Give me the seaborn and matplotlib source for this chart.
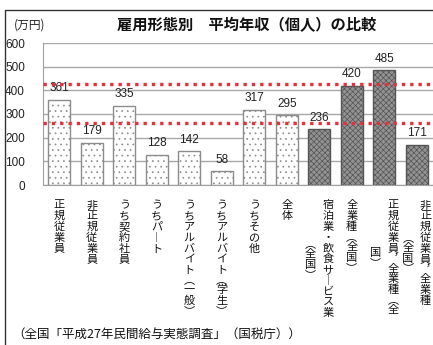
"""
雇用形態別 平均年収(個人)の比較 - bar chart with vertical Japanese labels.
"""

import matplotlib

matplotlib.use("Agg")
import matplotlib.pyplot as plt
import matplotlib.transforms as mtransforms
import numpy as np
import pandas as pd
import seaborn as sns
from matplotlib.patches import Rectangle

# --- data -------------------------------------------------------------------
categories = [
    "正規従業員",
    "非正規従業員",
    "うち契約社員",
    "うちパート",
    "うちアルバイト（一般）",
    "うちアルバイト（学生）",
    "うちその他",
    "全体",
    "宿泊業・飲食サービス業（全国）",
    "全業種（全国）",
    "正規従業員，全業種（全国）",
    "非正規従業員，全業種（全国）",
]
# how each category name is wrapped into vertical columns (right column first)
label_columns = [
    ["正規従業員"],
    ["非正規従業員"],
    ["うち契約社員"],
    ["うちパート"],
    ["うちアルバイト（一般）"],
    ["うちアルバイト（学生）"],
    ["うちその他"],
    ["全体"],
    ["宿泊業・飲食サービス業", "（全国）"],
    ["全業種（全国）"],
    ["正規従業員，全業種（全", "国）"],
    ["非正規従業員，全業種", "（全国）"],
]
values = [361, 179, 335, 128, 142, 58, 317, 295, 236, 420, 485, 171]
groups = ["会社"] * 8 + ["全国"] * 4
ref_lines = [425, 262]
yticks = [0, 100, 200, 300, 400, 500, 600]

title = "雇用形態別　平均年収（個人）の比較"
unit_label = "(万円)"
source = "（全国「平成27年民間給与実態調査」（国税庁））"

# --- style ------------------------------------------------------------------
sns.set_style("white")
plt.rcParams["font.family"] = ["Noto Sans CJK JP", "DejaVu Sans"]
plt.rcParams["hatch.linewidth"] = 0.5

W, H = 433, 345
fig = plt.figure(figsize=(W / 100, H / 100), dpi=100)
ax = fig.add_axes([43 / W, 160 / H, 390 / W, 142 / H])

df = pd.DataFrame({"category": categories, "value": values, "group": groups})
sns.barplot(
    data=df,
    x="category",
    y="value",
    hue="category",
    palette=["white"] * len(categories),
    width=0.68,
    legend=False,
    ax=ax,
)

for patch, grp in zip(ax.patches, groups):
    if grp == "会社":
        patch.set_facecolor("white")
        patch.set_edgecolor("#8c8c8c")
        patch.set_hatch("...")
    else:
        patch.set_facecolor("#939393")
        patch.set_edgecolor("#555555")
        patch.set_hatch("xxxxxx")
    patch.set_linewidth(1.0)

for i, v in enumerate(values):
    ax.annotate(
        str(v),
        (i, v),
        xytext=(0, 4),
        textcoords="offset points",
        ha="center",
        va="bottom",
        fontsize=8.5,
        family="Liberation Sans",
        color="#222222",
    )

for y in ref_lines:
    ax.axhline(y, color="#e8303a", linestyle=(0, (1, 1.5)), linewidth=2.4, zorder=5)

ax.set_ylim(0, 600)
ax.set_xlim(-0.5, len(categories) - 0.5)
ax.set_yticks(yticks)
ax.set_yticklabels([str(t) for t in yticks], fontsize=8.5, family="Liberation Sans", color="#222222")
ax.tick_params(axis="y", length=0, pad=13)
ax.set_xticks([])
ax.set_xticks(np.arange(-0.5, len(categories), 1), minor=True)
ax.tick_params(axis="x", which="minor", length=3, color="#999999")
ax.set_xlabel("")
ax.set_ylabel("")
ax.yaxis.grid(True, color="#a8a8a8", linewidth=1.0)
ax.set_axisbelow(True)
for side in ["top", "right"]:
    ax.spines[side].set_visible(False)
for side in ["left", "bottom"]:
    ax.spines[side].set_color("#a0a0a0")

# vertical category labels, one character at a time (vertical presentation forms)
vertical_forms = {"（": "\ufe35", "）": "\ufe36", "ー": "\ufe31", "，": "\ufe10"}
half_chars = {"（", "）", "，"}
step = 10.8
top_px = 200


def char_h(ch):
    return step * 0.85 if ch in half_chars else step


trans = mtransforms.blended_transform_factory(ax.transData, fig.transFigure)
for i, cols in enumerate(label_columns):
    heights = [sum(char_h(c) for c in col) for col in cols]
    block = max(heights)
    for j, col in enumerate(cols):
        xoff = 0.0
        if len(cols) > 1:
            xoff = 0.27 if j == 0 else -0.27
        y = top_px + (block - heights[j]) / 2
        for ch in col:
            h = char_h(ch)
            ax.text(
                i + xoff,
                1 - (y + h / 2) / H,
                vertical_forms.get(ch, ch),
                transform=trans,
                ha="center",
                va="center",
                fontsize=8,
                color="#111111",
            )
            y += h

# titles and notes
fig.text(247 / W, 1 - 25 / H, title, ha="center", va="center", fontsize=11, fontweight="bold", color="#111111")
fig.text(14 / W, 1 - 25 / H, unit_label, ha="left", va="center", fontsize=8.5, color="#222222")
fig.text(12 / W, 1 - 334 / H, source, ha="left", va="center", fontsize=9, color="#111111")

fig.patches.append(
    Rectangle((5 / W, -0.1), 1.2, 0.1 + 1 - 10 / H, transform=fig.transFigure, fill=False, edgecolor="#333333", linewidth=1.0)
)

fig.savefig("out.png", dpi=100, facecolor="white")
